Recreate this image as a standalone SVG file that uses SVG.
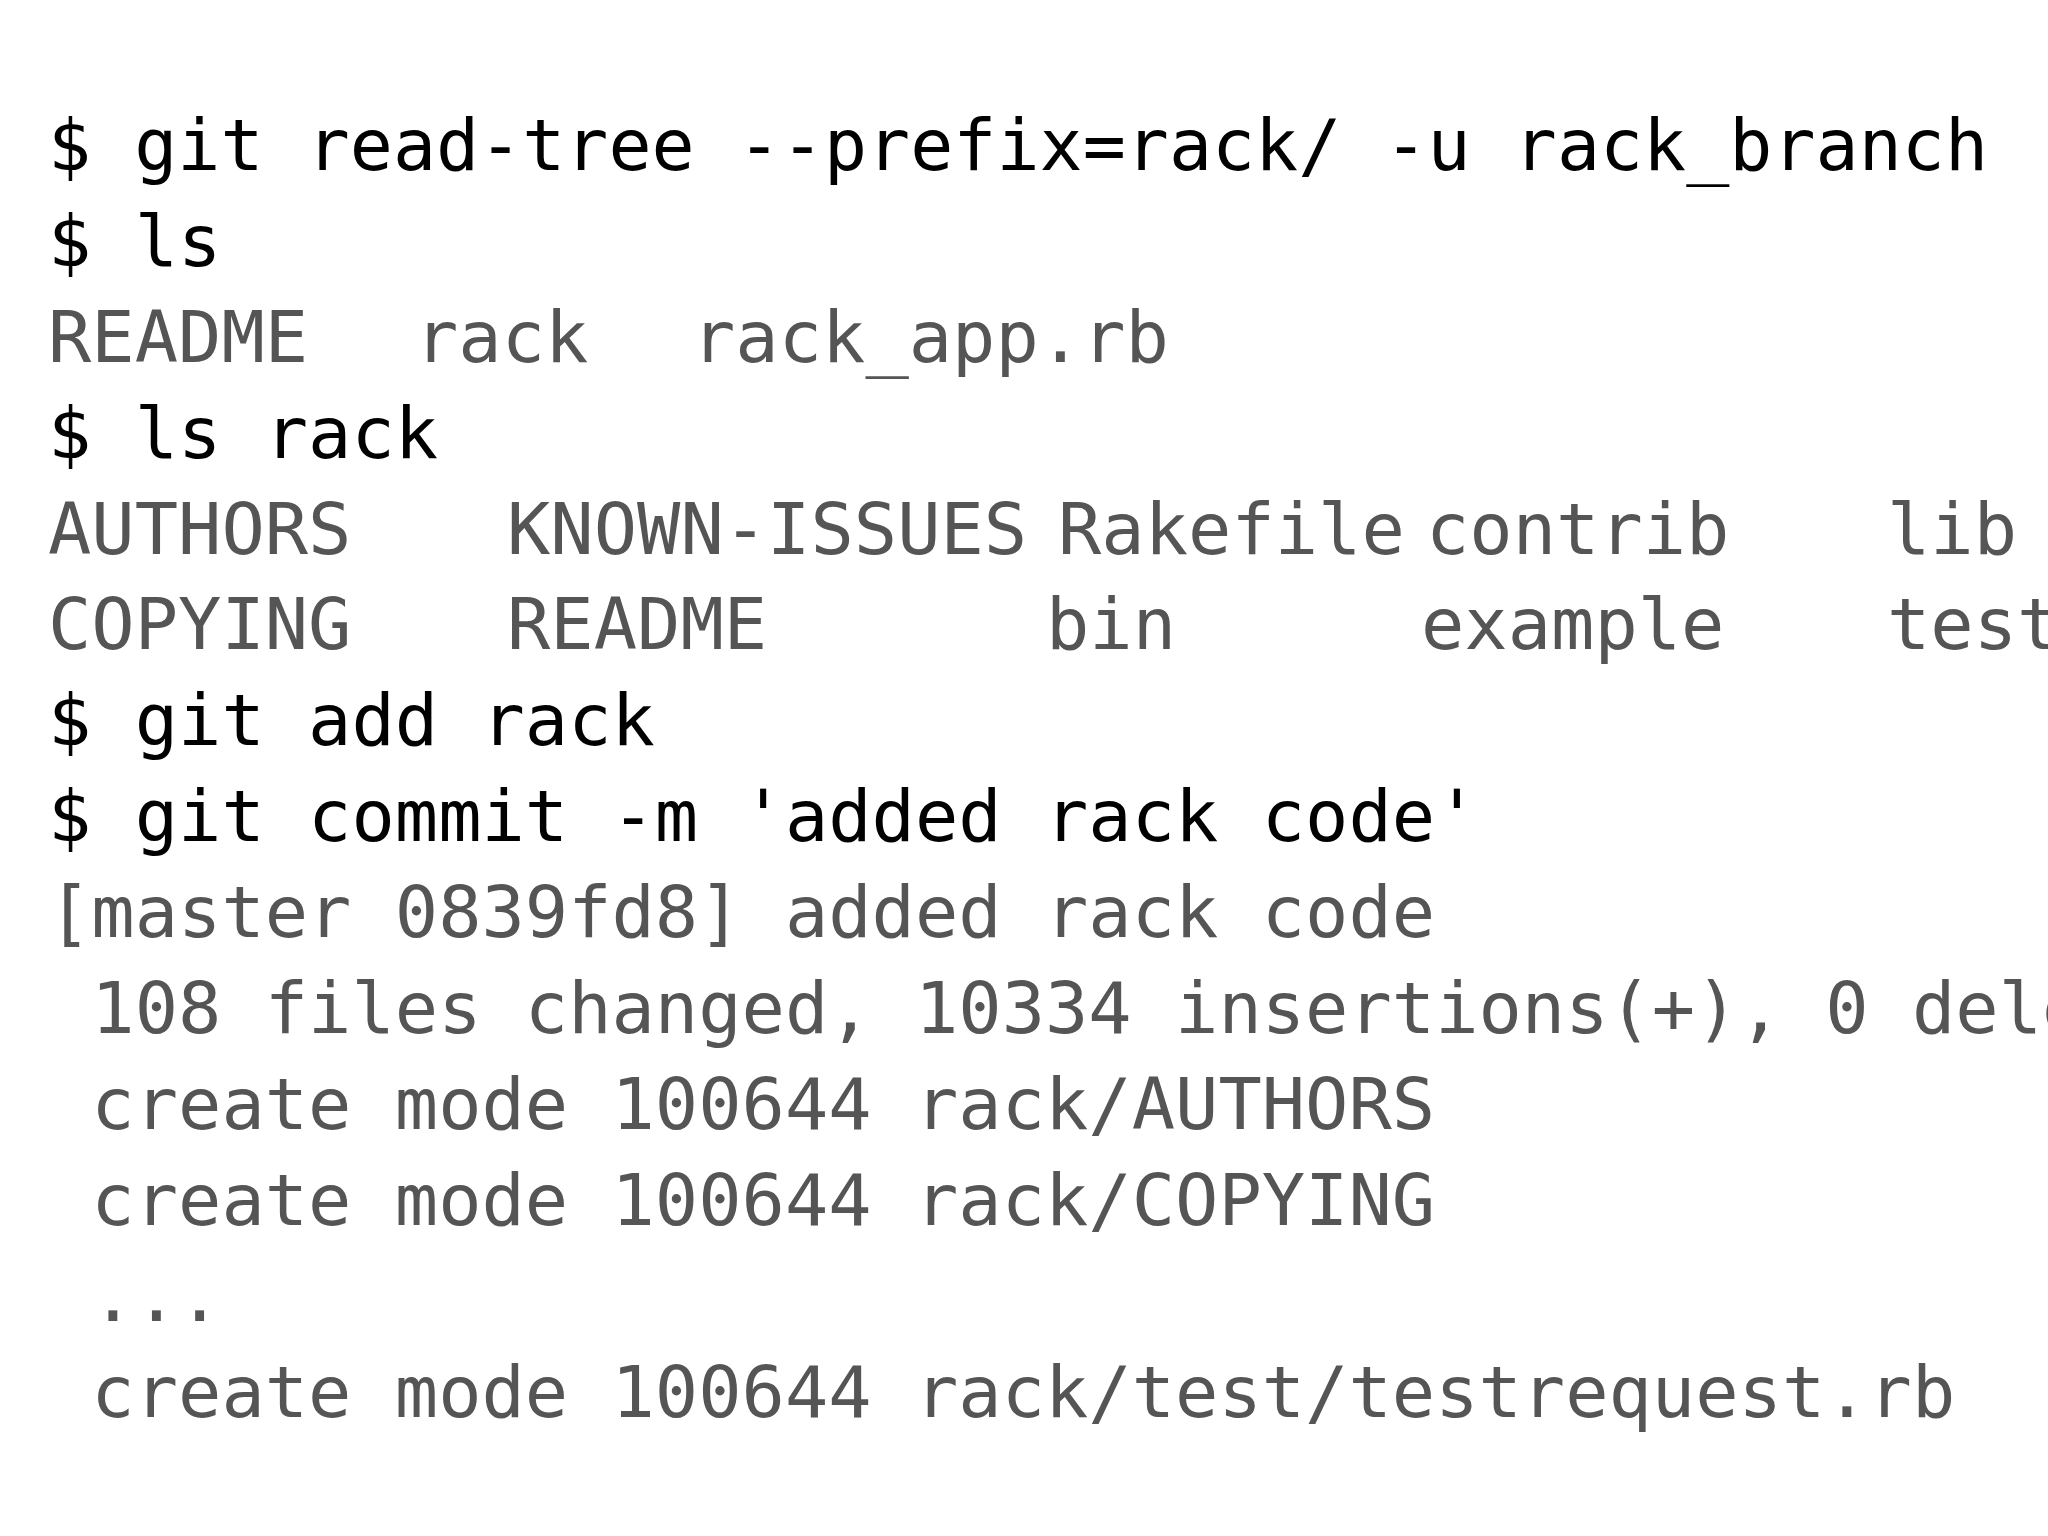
<svg xmlns="http://www.w3.org/2000/svg" width="2048" height="1536" viewBox="0 0 2048 1536">
<style>
text{font-family:"DejaVu Sans Mono","Liberation Mono",monospace;font-size:72px;white-space:pre}
.c{fill:#000}
.o{fill:#555}
</style>
<rect width="2048" height="1536" fill="#fff"/>
<g id="terminal">
<text class="c" x="48" y="170" textLength="1940" lengthAdjust="spacingAndGlyphs">$ git read-tree --prefix=rack/ -u rack_branch</text>
<text class="c" x="48" y="266">$ ls</text>
<text class="o" x="48" y="362">README</text>
<text class="o" x="415" y="362">rack</text>
<text class="o" x="692" y="362">rack_app.rb</text>
<text class="c" x="48" y="458">$ ls rack</text>
<text class="o" x="48" y="554">AUTHORS</text>
<text class="o" x="507" y="554">KNOWN-ISSUES</text>
<text class="o" x="1058" y="554">Rakefile</text>
<text class="o" x="1426" y="554">contrib</text>
<text class="o" x="1887" y="554">lib</text>
<text class="o" x="48" y="649">COPYING</text>
<text class="o" x="507" y="649">README</text>
<text class="o" x="1046" y="649">bin</text>
<text class="o" x="1421" y="649">example</text>
<text class="o" x="1887" y="649">test</text>
<text class="c" x="48" y="745">$ git add rack</text>
<text class="c" x="48" y="841">$ git commit -m 'added rack code'</text>
<text class="o" x="48" y="937">[master 0839fd8] added rack code</text>
<text class="o" x="48" y="1033"> 108 files changed, 10334 insertions(+), 0 deletions(-)</text>
<text class="o" x="48" y="1129"> create mode 100644 rack/AUTHORS</text>
<text class="o" x="48" y="1225"> create mode 100644 rack/COPYING</text>
<text class="o" x="48" y="1321"> ...</text>
<text class="o" x="48" y="1417"> create mode 100644 rack/test/testrequest.rb</text>
</g>
</svg>
